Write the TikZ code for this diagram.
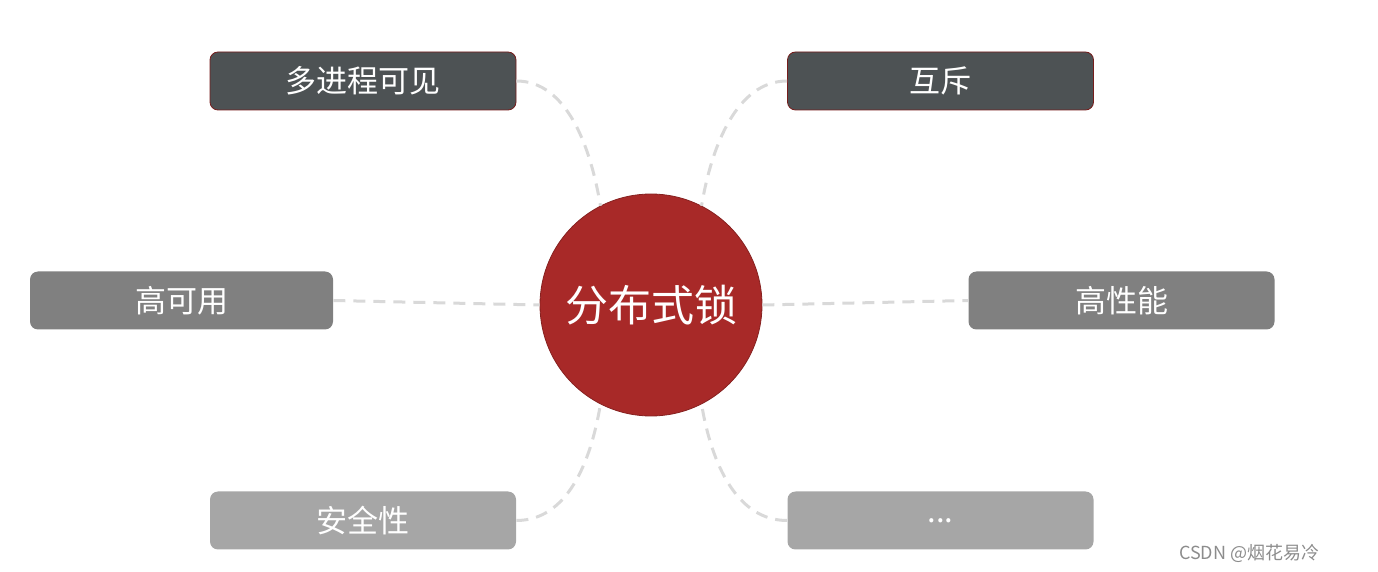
\documentclass[tikz,border=0pt]{standalone}
\usepackage{fontspec}
\setmainfont{Noto Sans CJK SC}
\definecolor{lockred}{RGB}{168,41,40}
\definecolor{darkbox}{RGB}{77,82,84}
\definecolor{midbox}{RGB}{128,128,128}
\definecolor{lightbox}{RGB}{166,166,166}
\definecolor{linkgray}{RGB}{217,217,217}
\begin{document}
\begin{tikzpicture}[x=0.5pt,y=-0.5pt,
    item/.style={rounded corners=4pt,minimum width=153pt,minimum height=29pt,inner sep=0pt,text=white,font=\fontsize{15.5}{18}\selectfont},
    link/.style={draw=linkgray,line width=1.5pt,dash pattern=on 6pt off 4pt}]
                \useasboundingbox (0,0) rectangle (1378,572);
                \node[circle,fill=lockred,draw=lockred!80!black,line width=0.4pt,minimum size=111pt,inner sep=0pt,text=white,font=\fontsize{21.5}{25}\selectfont] (lock) at (651,305) {分布式锁};
                \node[item,fill=darkbox,draw=lockred!70!black,line width=0.4pt] (visible) at (363,81) {多进程可见};
                \node[item,fill=darkbox,draw=lockred!70!black,line width=0.4pt] (mutex) at (940.5,81) {互斥};
                \node[item,fill=midbox,minimum width=151.5pt] (avail) at (181.5,300.5) {高可用};
                \node[item,fill=midbox] (perf) at (1121.5,300.5) {高性能};
                \node[item,fill=lightbox] (safe) at (363,520.5) {安全性};
                \node[item,fill=lightbox] (more) at (940.5,520.5) {...};
                \draw[link] (visible.east) .. controls +(50,0) and +(-10,-60) .. (lock.117);
                \draw[link] (mutex.west) .. controls +(-50,0) and +(10,-60) .. (lock.63);
                \draw[link] (avail.east) -- (lock.west);
                \draw[link] (lock.east) -- (perf.west);
                \draw[link] (safe.east) .. controls +(50,0) and +(-10,60) .. (lock.-117);
                \draw[link] (more.west) .. controls +(-50,0) and +(10,60) .. (lock.-63);
                \node[anchor=west,text=black!45,font=\fontsize{9}{11}\selectfont] (mark) at (1172,553) {CSDN @烟花易冷};
            \end{tikzpicture}
\end{document}
